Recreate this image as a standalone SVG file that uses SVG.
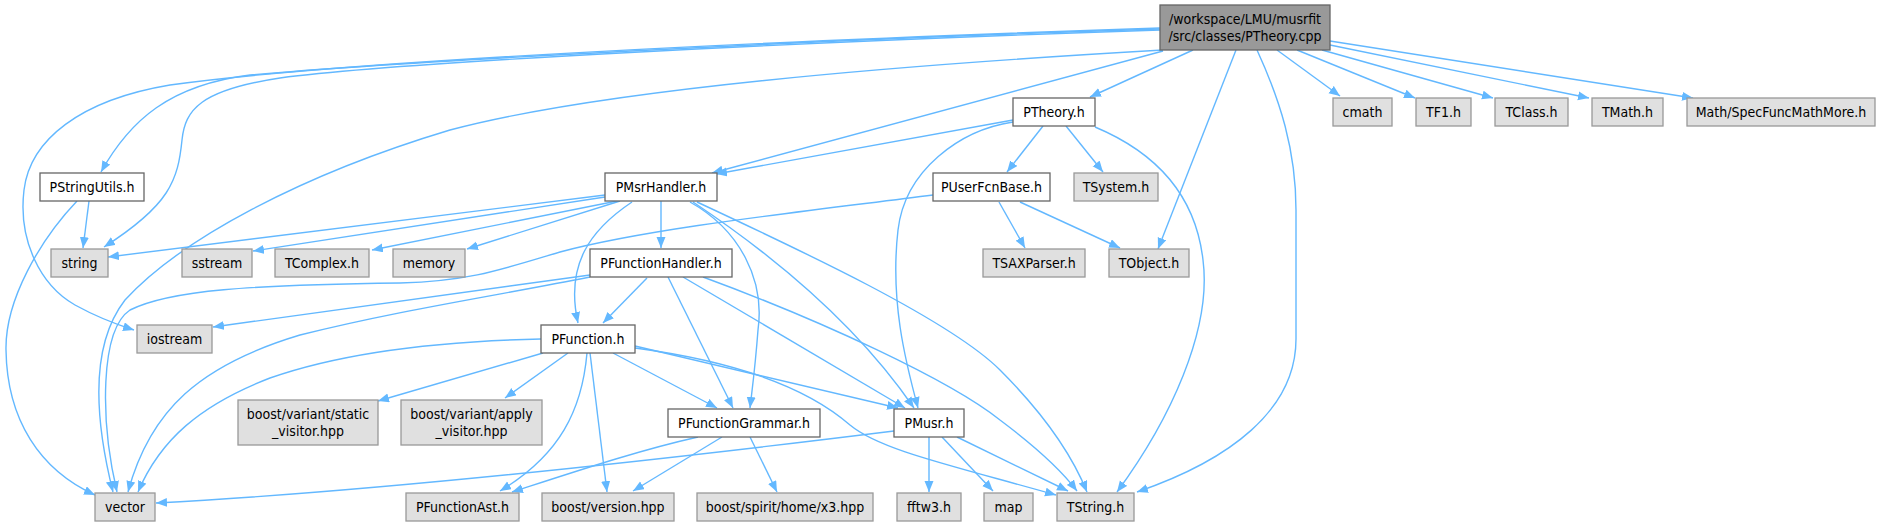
<svg xmlns="http://www.w3.org/2000/svg" width="1880" height="526" viewBox="0 0 1880 526">
<defs>
<style>
.n rect{fill:#ffffff;stroke:#666666;stroke-width:1.3}
.g rect{fill:#e0e0e0;stroke:#999999;stroke-width:1.3}
.r rect{fill:#999999;stroke:#666666;stroke-width:1.3}
text{font-family:'DejaVu Sans Condensed','DejaVu Sans',sans-serif;font-stretch:condensed;font-size:14px;fill:#000000;text-anchor:middle}
.e path{fill:none;stroke:#63b8ff;stroke-width:1.4;marker-end:url(#ah)}
</style>
<marker id="ah" markerWidth="12" markerHeight="10" refX="11" refY="4.5" orient="auto" markerUnits="userSpaceOnUse">
<path d="M0,0 L11,4.5 L0,9 z" fill="#63b8ff" stroke="none"/>
</marker>
</defs>
<rect width="1880" height="526" fill="#ffffff"/>
<g id="edges" class="e">
<path d="M1277,50 L1340,96"/>
<path d="M1297,50 L1415,98"/>
<path d="M1322,50 L1493,98"/>
<path d="M1330,45 L1589,98"/>
<path d="M1330,41 L1693,98"/>
<path d="M1193,50 L1090,97"/>
<path d="M1236,50 L1158,249"/>
<path d="M1257,50 C1280,100 1296,150 1296,210 L1296,339 C1296,410 1230,460 1137,492"/>
<path d="M1163,51 L712,173"/>
<path d="M1160,29 C800,40 400,62 250,75 C170,85 130,120 101,172"/>
<path d="M1160,30 C800,42 400,62 280,78 C200,90 185,110 182,140 C178,180 170,205 104,247"/>
<path d="M1160,28 C800,40 350,60 170,85 C80,100 30,140 24,190 C18,240 40,285 75,305 C95,316 115,324 134,330"/>
<path d="M1163,50 C900,65 600,90 450,130 C300,175 180,240 125,300 C90,345 95,420 113,492"/>
<path d="M1013,120 L716,174"/>
<path d="M1043,126 L1007,172"/>
<path d="M1066,126 L1103,172"/>
<path d="M1013,122 C960,130 905,170 898,230 C890,300 905,360 918,408"/>
<path d="M1095,127 C1150,150 1195,190 1203,260 C1212,330 1170,420 1117,492"/>
<path d="M77,201 C40,240 5,300 6,350 C7,420 40,470 95,495"/>
<path d="M89,201 L83,248"/>
<path d="M605,195 L108,257"/>
<path d="M605,197 L253,251"/>
<path d="M617,201 L372,250"/>
<path d="M620,201 L467,249"/>
<path d="M661,201 L661,248"/>
<path d="M632,202 C590,230 565,265 578,323"/>
<path d="M690,202 C740,230 765,280 758,330 C755,370 752,390 750,408"/>
<path d="M693,202 Q840,300 914,408"/>
<path d="M697,202 C800,250 950,320 1000,370 C1040,410 1070,450 1087,492"/>
<path d="M999,202 L1025,248"/>
<path d="M1020,202 L1120,248"/>
<path d="M933,195 C800,212 650,228 560,252 C500,270 470,281 400,283 C250,285 170,290 130,310 C100,330 100,420 117,492"/>
<path d="M590,275 L213,327"/>
<path d="M590,277 C500,295 400,310 300,335 C200,365 150,410 128,492"/>
<path d="M647,278 L603,323"/>
<path d="M668,277 L733,408"/>
<path d="M683,277 L905,408"/>
<path d="M703,277 C820,320 950,380 1000,420 C1040,450 1065,475 1077,491"/>
<path d="M541,339 C450,341 350,350 270,378 C200,405 160,440 138,492"/>
<path d="M543,353 L378,401"/>
<path d="M568,353 L505,398"/>
<path d="M587,353 C582,410 560,455 500,491"/>
<path d="M590,353 L607,492"/>
<path d="M613,353 L717,408"/>
<path d="M635,346 L898,408"/>
<path d="M635,348 C740,362 810,390 850,425 C880,450 950,465 1056,495"/>
<path d="M698,437 C640,450 580,470 512,492"/>
<path d="M722,437 L633,491"/>
<path d="M750,437 L777,492"/>
<path d="M894,431 C700,455 400,490 156,503"/>
<path d="M929,437 L929,492"/>
<path d="M942,437 L993,491"/>
<path d="M957,437 L1068,491"/>
</g>
<g id="root" class="r"><rect x="1160" y="5" width="170" height="45"/><text x="1245" y="24">/workspace/LMU/musrfit</text><text x="1245" y="40.5">/src/classes/PTheory.cpp</text></g>
<g id="PTheory_h" class="n"><rect x="1013" y="98" width="82" height="28"/><text x="1054" y="117">PTheory.h</text></g>
<g id="cmath" class="g"><rect x="1333" y="98" width="59" height="28"/><text x="1362.5" y="117">cmath</text></g>
<g id="TF1_h" class="g"><rect x="1416" y="98" width="55" height="28"/><text x="1443.5" y="117">TF1.h</text></g>
<g id="TClass_h" class="g"><rect x="1495" y="98" width="73" height="28"/><text x="1531.5" y="117">TClass.h</text></g>
<g id="TMath_h" class="g"><rect x="1592" y="98" width="71" height="28"/><text x="1627.5" y="117">TMath.h</text></g>
<g id="SpecFunc" class="g"><rect x="1687" y="98" width="188" height="28"/><text x="1781" y="117">Math/SpecFuncMathMore.h</text></g>
<g id="PStringUtils_h" class="n"><rect x="40" y="173" width="104" height="28"/><text x="92" y="192">PStringUtils.h</text></g>
<g id="PMsrHandler_h" class="n"><rect x="605" y="173" width="112" height="28"/><text x="661" y="192">PMsrHandler.h</text></g>
<g id="PUserFcnBase_h" class="n"><rect x="933" y="173" width="117" height="28"/><text x="991.5" y="192">PUserFcnBase.h</text></g>
<g id="TSystem_h" class="g"><rect x="1074" y="173" width="84" height="28"/><text x="1116" y="192">TSystem.h</text></g>
<g id="string" class="g"><rect x="51" y="249" width="57" height="28"/><text x="79.5" y="268">string</text></g>
<g id="sstream" class="g"><rect x="182" y="249" width="70" height="28"/><text x="217" y="268">sstream</text></g>
<g id="TComplex_h" class="g"><rect x="275" y="249" width="94" height="28"/><text x="322" y="268">TComplex.h</text></g>
<g id="memory" class="g"><rect x="393" y="249" width="72" height="28"/><text x="429" y="268">memory</text></g>
<g id="PFunctionHandler_h" class="n"><rect x="590" y="249" width="142" height="28"/><text x="661" y="268">PFunctionHandler.h</text></g>
<g id="TSAXParser_h" class="g"><rect x="983" y="249" width="102" height="28"/><text x="1034" y="268">TSAXParser.h</text></g>
<g id="TObject_h" class="g"><rect x="1109" y="249" width="80" height="28"/><text x="1149" y="268">TObject.h</text></g>
<g id="iostream" class="g"><rect x="137" y="325" width="75" height="28"/><text x="174.5" y="344">iostream</text></g>
<g id="PFunction_h" class="n"><rect x="541" y="325" width="94" height="28"/><text x="588" y="344">PFunction.h</text></g>
<g id="static_visitor" class="g"><rect x="238" y="400" width="140" height="45"/><text x="308" y="419">boost/variant/static</text><text x="308" y="436">_visitor.hpp</text></g>
<g id="apply_visitor" class="g"><rect x="401" y="400" width="141" height="45"/><text x="471.5" y="419">boost/variant/apply</text><text x="471.5" y="436">_visitor.hpp</text></g>
<g id="PFunctionGrammar_h" class="n"><rect x="668" y="409" width="152" height="28"/><text x="744" y="428">PFunctionGrammar.h</text></g>
<g id="PMusr_h" class="n"><rect x="894" y="409" width="70" height="28"/><text x="929" y="428">PMusr.h</text></g>
<g id="vector" class="g"><rect x="95" y="493" width="60" height="28"/><text x="125" y="512">vector</text></g>
<g id="PFunctionAst_h" class="g"><rect x="406" y="493" width="113" height="28"/><text x="462.5" y="512">PFunctionAst.h</text></g>
<g id="boost_version" class="g"><rect x="542" y="493" width="132" height="28"/><text x="608" y="512">boost/version.hpp</text></g>
<g id="boost_spirit" class="g"><rect x="697" y="493" width="176" height="28"/><text x="785" y="512">boost/spirit/home/x3.hpp</text></g>
<g id="fftw3_h" class="g"><rect x="897" y="493" width="64" height="28"/><text x="929" y="512">fftw3.h</text></g>
<g id="map" class="g"><rect x="984" y="493" width="49" height="28"/><text x="1008.5" y="512">map</text></g>
<g id="TString_h" class="g"><rect x="1057" y="493" width="77" height="28"/><text x="1095.5" y="512">TString.h</text></g>
</svg>
